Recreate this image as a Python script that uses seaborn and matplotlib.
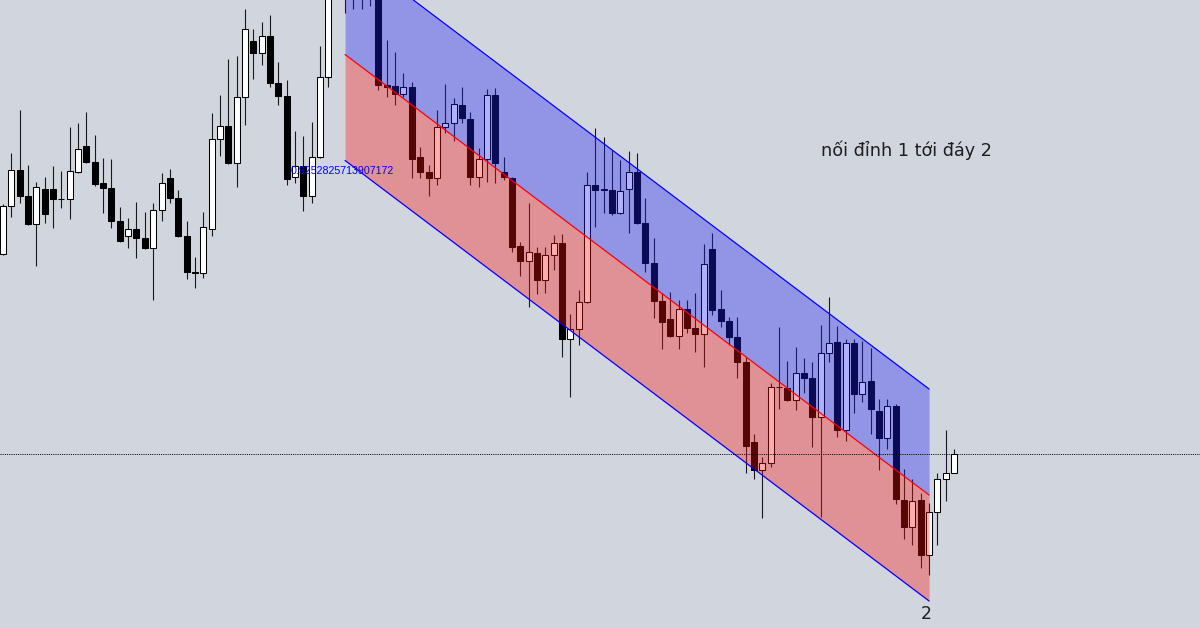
import matplotlib
matplotlib.use("Agg")
import matplotlib.pyplot as plt
import numpy as np
import pandas as pd
import seaborn as sns

# ---------------- data (price, bar index) ----------------
open_ = [0.92156, 0.92348, 0.92492, 0.92388, 0.92276, 0.92416, 0.92416, 0.92376, 0.92376, 0.92484,
         0.92588, 0.92524, 0.92440, 0.92420, 0.92288, 0.92228, 0.92256, 0.92220, 0.92180, 0.92332,
         0.92460, 0.92380, 0.92228, 0.92084, 0.92080, 0.92256, 0.92616, 0.92668, 0.92520, 0.92784,
         0.93008, 0.92960, 0.93028, 0.92840, 0.92788, 0.92464, 0.92508, 0.92388, 0.92544, 0.92864,
         0.93252, 0.93352, 0.93232, 0.93292, 0.93212, 0.93272, 0.92832, 0.92828, 0.92796, 0.92824,
         0.92544, 0.92484, 0.92460, 0.92664, 0.92680, 0.92752, 0.92696, 0.92464, 0.92536, 0.92792,
         0.92484, 0.92460, 0.92188, 0.92128, 0.92160, 0.92052, 0.92152, 0.92200, 0.91816, 0.91856,
         0.91964, 0.92432, 0.92412, 0.92412, 0.92320, 0.92416, 0.92484, 0.92280, 0.92120, 0.91968,
         0.91896, 0.91828, 0.91936, 0.91860, 0.91836, 0.92176, 0.91936, 0.91888, 0.91824, 0.91724,
         0.91404, 0.91292, 0.91320, 0.91624, 0.91620, 0.91572, 0.91680, 0.91660, 0.91504, 0.91760,
         0.91804, 0.91452, 0.91800, 0.91596, 0.91648, 0.91528, 0.91420, 0.91548, 0.91172, 0.91064,
         0.91172, 0.90952, 0.91124, 0.91256, 0.91280]
high = [0.92356, 0.92560, 0.92732, 0.92512, 0.92444, 0.92464, 0.92508, 0.92488, 0.92664, 0.92680,
        0.92724, 0.92632, 0.92540, 0.92536, 0.92344, 0.92300, 0.92364, 0.92324, 0.92360, 0.92480,
        0.92496, 0.92412, 0.92288, 0.92144, 0.92324, 0.92720, 0.92792, 0.92936, 0.92948, 0.93136,
        0.93056, 0.93084, 0.93112, 0.92924, 0.92852, 0.92648, 0.92628, 0.92684, 0.92988, 0.93312,
        0.93392, 0.93412, 0.93352, 0.93332, 0.93312, 0.93292, 0.93012, 0.92964, 0.92880, 0.92844,
        0.92584, 0.92512, 0.92732, 0.92836, 0.92780, 0.92824, 0.92724, 0.92580, 0.92816, 0.92820,
        0.92544, 0.92464, 0.92204, 0.92360, 0.92184, 0.92184, 0.92232, 0.92236, 0.91916, 0.92012,
        0.92484, 0.92660, 0.92624, 0.92572, 0.92532, 0.92568, 0.92560, 0.92380, 0.92220, 0.92000,
        0.92004, 0.91972, 0.91972, 0.92000, 0.92196, 0.92240, 0.92012, 0.91904, 0.91904, 0.91744,
        0.91436, 0.91344, 0.91640, 0.91864, 0.91728, 0.91784, 0.91740, 0.91724, 0.91872, 0.91984,
        0.91868, 0.91816, 0.91816, 0.91808, 0.91780, 0.91576, 0.91576, 0.91556, 0.91296, 0.91256,
        0.91200, 0.91160, 0.91280, 0.91452, 0.91376]
low = [0.92152, 0.92304, 0.92360, 0.92272, 0.92108, 0.92280, 0.92260, 0.92340, 0.92296, 0.92480,
       0.92520, 0.92428, 0.92320, 0.92260, 0.92204, 0.92180, 0.92140, 0.92176, 0.91972, 0.92288,
       0.92360, 0.92224, 0.92056, 0.92020, 0.92060, 0.92228, 0.92548, 0.92516, 0.92424, 0.92672,
       0.92856, 0.92912, 0.92824, 0.92752, 0.92432, 0.92440, 0.92328, 0.92360, 0.92540, 0.92824,
       0.93272, 0.93120, 0.93136, 0.93136, 0.93148, 0.92812, 0.92784, 0.92752, 0.92784, 0.92460,
       0.92460, 0.92388, 0.92432, 0.92640, 0.92608, 0.92680, 0.92432, 0.92424, 0.92444, 0.92440,
       0.92452, 0.92164, 0.92068, 0.91944, 0.91996, 0.92000, 0.92092, 0.91744, 0.91584, 0.91792,
       0.91960, 0.92264, 0.92320, 0.92312, 0.92316, 0.92240, 0.92276, 0.92084, 0.91900, 0.91776,
       0.91824, 0.91776, 0.91840, 0.91764, 0.91704, 0.91912, 0.91864, 0.91792, 0.91660, 0.91280,
       0.91256, 0.91100, 0.91304, 0.91536, 0.91568, 0.91532, 0.91600, 0.91384, 0.91104, 0.91724,
       0.91424, 0.91408, 0.91520, 0.91564, 0.91436, 0.91292, 0.91376, 0.91156, 0.91016, 0.90992,
       0.90900, 0.90872, 0.90992, 0.91168, 0.91280]
close = [0.92348, 0.92492, 0.92388, 0.92276, 0.92424, 0.92316, 0.92376, 0.92374, 0.92488, 0.92576,
         0.92524, 0.92436, 0.92420, 0.92288, 0.92208, 0.92256, 0.92220, 0.92180, 0.92332, 0.92440,
         0.92380, 0.92228, 0.92084, 0.92080, 0.92264, 0.92616, 0.92668, 0.92520, 0.92784, 0.93056,
         0.92960, 0.93028, 0.92840, 0.92788, 0.92456, 0.92508, 0.92388, 0.92544, 0.92864, 0.93252,
         0.93352, 0.93232, 0.93292, 0.93212, 0.93272, 0.92832, 0.92824, 0.92796, 0.92824, 0.92536,
         0.92484, 0.92460, 0.92664, 0.92680, 0.92756, 0.92700, 0.92464, 0.92536, 0.92792, 0.92520,
         0.92464, 0.92184, 0.92128, 0.92164, 0.92052, 0.92152, 0.92200, 0.91816, 0.91856, 0.91964,
         0.92432, 0.92412, 0.92414, 0.92320, 0.92408, 0.92484, 0.92280, 0.92120, 0.91968, 0.91884,
         0.91828, 0.91936, 0.91860, 0.91836, 0.92116, 0.91932, 0.91888, 0.91824, 0.91724, 0.91388,
         0.91292, 0.91320, 0.91624, 0.91622, 0.91572, 0.91680, 0.91660, 0.91504, 0.91760, 0.91800,
         0.91452, 0.91800, 0.91596, 0.91644, 0.91536, 0.91420, 0.91548, 0.91176, 0.91064, 0.91168,
         0.90952, 0.91124, 0.91256, 0.91280, 0.91356]

# channel drawn from peak 1 (bar 41) to bottom 2 (bar 111)
channel_bars = [41, 111]
channel_mid = [0.92954, 0.91192]
channel_halfwidth = 0.00424
channel_label = "0.9252825713907172"
note_text = "nối đỉnh 1 tới đáy 2"
bottom_label = "2"

# ---------------- styling ----------------
BG = "#D1D5DD"
sns.set_theme(style="white", rc={"axes.facecolor": BG, "figure.facecolor": BG})
plt.rcParams["font.family"] = ["DejaVu Sans"]

df = pd.DataFrame({"open": open_, "high": high, "low": low, "close": close})
df["bar"] = np.arange(len(df))
df["bull"] = df["close"] >= df["open"]
df["body_lo"] = df[["open", "close"]].min(axis=1)
df["body_h"] = (df["close"] - df["open"]).abs().clip(lower=0.00003)

fig = plt.figure(figsize=(12, 6.28), dpi=100)
ax = fig.add_axes([0, 0, 1, 1])
ax.set_facecolor(BG)

# wicks
ax.vlines(df["bar"], df["low"], df["high"], color="#1a1a1a", lw=0.8, zorder=2)
# bodies
ax.bar(df["bar"], df["body_h"], bottom=df["body_lo"], width=0.72,
       color=np.where(df["bull"], "white", "black"), edgecolor="black",
       linewidth=0.75, zorder=2.5)

# channel
xb = np.array(channel_bars, dtype=float)
mid = np.array(channel_mid)
top = mid + channel_halfwidth
bot = mid - channel_halfwidth
ax.fill_between(xb, mid, top, color=(30/255, 30/255, 245/255), alpha=0.35, lw=0, zorder=3)
ax.fill_between(xb, bot, mid, color=(250/255, 20/255, 20/255), alpha=0.35, lw=0, zorder=3)
sns.lineplot(x=xb, y=top, color="#0000FF", lw=0.9, ax=ax, zorder=4)
sns.lineplot(x=xb, y=bot, color="#0000FF", lw=0.9, ax=ax, zorder=4)
sns.lineplot(x=xb, y=mid, color="#FF0000", lw=0.9, ax=ax, zorder=4)

# current price dotted line
ax.axhline(close[-1], color="black", lw=0.72, ls=(0, (1, 1.2)), zorder=5)

# texts
ax.text(34.5, bot[0] - 0.00042, channel_label, color="#0000FF", fontsize=7.7,
        family=["Liberation Sans", "DejaVu Sans"], ha="left", va="center", zorder=6)
fig.text(0.684, 0.761, note_text, color="#1e1e1e", fontsize=12.7, ha="left", va="center")
fig.text(0.772, 0.022, bottom_label, color="#1e1e1e", fontsize=12.5, ha="center", va="center")

ax.set_xlim(-0.36, 143.47)
ax.set_ylim(0.90660, 0.93172)
ax.set_xticks([])
ax.set_yticks([])
for s in ax.spines.values():
    s.set_visible(False)

fig.savefig("out.png", dpi=100, facecolor=BG)
